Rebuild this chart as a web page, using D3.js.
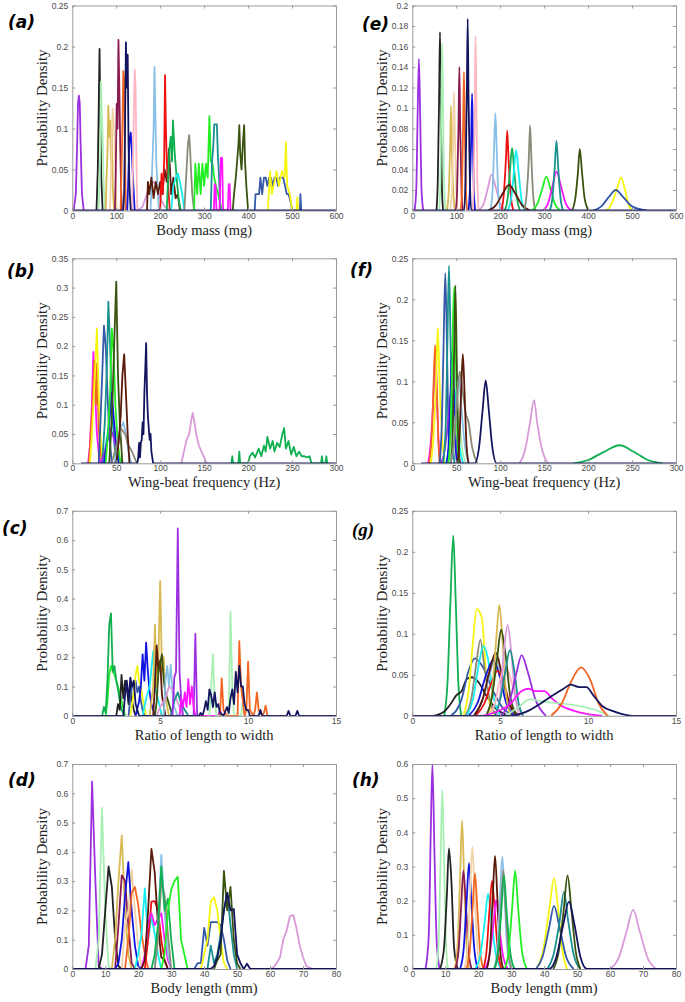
<!DOCTYPE html>
<html><head><meta charset="utf-8">
<script src="https://cdn.jsdelivr.net/npm/d3@7"></script>
<style>body{margin:0;background:#fff}</style>
</head><body><svg id="c" width="685" height="1002"></svg>
<script>
// ---------- styles (species colours) ----------
const palette = {
  purple:"#9b30e0", black:"#222222", lightgreen:"#a8efb4", khaki:"#d8b850", wheat:"#f3d3a6",
  maroon:"#8b1a50", orange:"#f26522", pink:"#ffb6c1", navy:"#13145e", blue:"#1414e0",
  skyblue:"#88c0e8", plum:"#d99ad9", red:"#ee1111", brown:"#5a1a0a", medgreen:"#10b050",
  cyan:"#14eeee", gray:"#8a8a78", lime:"#22ee22", magenta:"#ff14ff", teal:"#1a9090",
  olive:"#3a5210", royal:"#3558a8", yellow:"#f5f510"
};

// ---------- tick values ----------
const massTicks = [0,100,200,300,400,500,600];
const wingTicks = [0,50,100,150,200,250,300];
const ratioTicks = [0,5,10,15];
const lengthTicks = [0,10,20,30,40,50,60,70,80];
const yTicksA = [0,0.05,0.1,0.15,0.2,0.25];
const yTicksE = [0,0.02,0.04,0.06,0.08,0.1,0.12,0.14,0.16,0.18,0.2];
const yTicksB = [0,0.05,0.1,0.15,0.2,0.25,0.3,0.35];
const yTicksF = [0,0.05,0.1,0.15,0.2,0.25];
const yTicksC = [0,0.1,0.2,0.3,0.4,0.5,0.6,0.7];
const yTicksG = [0,0.05,0.1,0.15,0.2,0.25];
const yTicksD = [0,0.1,0.2,0.3,0.4,0.5,0.6,0.7];
const yTicksH = [0,0.1,0.2,0.3,0.4,0.5,0.6];

// ---------- (a) body mass, raw densities ----------
const massRaw = [
 ["purple",[[3,0],[8,.02],[11,.08],[13,.13],[15,.14],[17,.13],[19,.08],[22,.02],[26,0]]],
 ["black",[[55,0],[58,.05],[60,.12],[62,.197],[64,.10],[66,.04],[69,0]]],
 ["lightgreen",[[60,0],[63,.06],[65,.157],[67,.12],[69,.09],[71,.04],[74,0]]],
 ["khaki",[[76,0],[78,.04],[80,.07],[82,.128],[84,.09],[86,.11],[88,.06],[90,.10],[92,.03],[95,0]]],
 ["wheat",[[86,0],[88,.05],[90,.10],[92,.124],[94,.11],[96,.09],[98,.05],[101,0]]],
 ["maroon",[[97,0],[99,.05],[101,.13],[103,.10],[105,.208],[107,.15],[109,.08],[111,.03],[113,0]]],
 ["orange",[[110,0],[112,.05],[114,.10],[116,.17],[118,.16],[120,.06],[122,0]]],
 ["blue",[[125,0],[127,.03],[129,.07],[131,.09],[133,.095],[135,.08],[137,.05],[140,.02],[142,0]]],
 ["pink",[[136,0],[138,.06],[140,.12],[142,.172],[144,.15],[146,.06],[148,0]]],
 ["plum",[[150,0],[160,.005],[170,.02],[178,.03],[185,.035],[192,.03],[200,.015],[210,.005],[220,0]]],
 ["skyblue",[[178,0],[181,.04],[183,.07],[185,.10],[187,.175],[189,.12],[191,.06],[194,.03],[197,0]]],
 ["brown",[[170,0],[172,.035],[175,.02],[180,.04],[185,.015],[190,.035],[195,.02],[200,.035],[205,.02],[210,.05],[215,.035],[220,.075],[225,.02],[230,.04],[235,.015],[240,.02],[245,0]]],
 ["red",[[200,0],[203,.045],[206,.02],[209,.06],[211,.165],[213,.10],[215,.06],[218,.03],[222,0]]],
 ["medgreen",[[215,0],[218,.04],[221,.075],[224,.09],[227,.06],[229,.11],[231,.09],[233,.07],[236,.05],[239,.03],[243,.01],[247,0]]],
 ["cyan",[[225,0],[230,.03],[235,.04],[240,.045],[245,.035],[250,.02],[255,0]]],
 ["gray",[[255,0],[258,.03],[261,.06],[263,.08],[266,.092],[268,.075],[270,.05],[273,.02],[277,0]]],
 ["lime",[[277,0],[280,.057],[284,.02],[288,.057],[292,.02],[296,.057],[300,.03],[304,.057],[308,.04],[312,.115],[315,.06],[319,.057],[323,.04],[327,.03],[332,.02],[336,.01],[340,0]]],
 ["teal",[[315,0],[318,.06],[321,.08],[323,.105],[326,.105],[329,.105],[331,.07],[334,.04],[337,0]]],
 ["magenta",[[322,0],[324,.032],[326,.03],[328,0],[335,0],[338,.064],[341,.064],[343,0],[354,0],[356,.032],[358,.032],[360,0]]],
 ["olive",[[365,0],[368,.02],[372,.04],[375,.06],[378,.08],[380,.104],[382,.07],[385,.05],[388,.08],[391,.104],[393,.06],[396,.03],[400,0]]],
 ["royal",[[415,0],[417,.02],[425,.02],[428,.04],[432,.02],[436,.04],[440,.04],[444,.03],[448,.04],[452,.04],[456,.03],[460,.04],[464,.04],[468,.03],[472,.04],[476,.04],[480,.04],[484,.03],[488,.02],[492,.02],[497,.01],[500,0],[518,0],[519,.02],[521,0]]],
 ["yellow",[[445,0],[450,.048],[454,.02],[465,.048],[470,.03],[477,.048],[483,.04],[486,.083],[489,.03],[495,.02],[500,0],[510,0],[512,.016],[514,0]]],
 ["navy",[[0,0],[116,0],[118,.02],[120,.10],[122,.205],[124,.15],[126,.19],[128,.08],[130,.03],[133,0],[600,0]]]
];

// ---------- (e) body mass, fitted ----------
const massFit = [
 ["purple",[[5,0],[9,.02],[12,.09],[15,.148],[18,.09],[21,.02],[25,0]]],
 ["black",[[55,0],[58,.03],[61,.11],[63,.174],[65,.11],[67,.03],[70,0]]],
 ["lightgreen",[[61,0],[64,.03],[66,.10],[68,.163],[70,.10],[72,.03],[76,0]]],
 ["khaki",[[79,0],[83,.02],[86,.06],[88,.102],[90,.06],[93,.02],[97,0]]],
 ["wheat",[[86,0],[90,.02],[93,.07],[95,.116],[97,.07],[100,.02],[103,0]]],
 ["maroon",[[99,0],[102,.02],[105,.08],[107,.14],[109,.08],[112,.02],[115,0]]],
 ["orange",[[110,0],[113,.02],[115.5,.08],[117.5,.135],[119.5,.08],[122,.02],[125,0]]],
 ["blue",[[128,0],[131,.02],[134,.07],[136,.114],[138,.07],[140,.02],[143,0]]],
 ["pink",[[137,0],[140,.03],[142,.10],[144,.17],[146,.10],[148,.03],[151,0]]],
 ["plum",[[150,0],[162,.006],[172,.022],[180,.035],[189,.024],[200,.007],[215,0]]],
 ["skyblue",[[177,0],[182,.015],[186,.06],[189,.095],[192,.06],[196,.015],[201,0]]],
 ["red",[[203,0],[208,.015],[213,.05],[216,.078],[219,.05],[224,.015],[230,0]]],
 ["medgreen",[[211,0],[217,.012],[222,.038],[227,.061],[232,.038],[238,.012],[245,0]]],
 ["cyan",[[218,0],[225,.012],[231,.037],[236,.059],[242,.037],[248,.012],[256,0]]],
 ["brown",[[173,0],[190,.005],[205,.016],[220,.025],[235,.016],[250,.005],[268,0]]],
 ["gray",[[255,0],[260,.015],[265,.05],[268,.083],[271,.05],[275,.015],[280,0]]],
 ["lime",[[272,0],[284,.006],[295,.02],[305,.033],[315,.02],[325,.006],[337,0]]],
 ["magenta",[[298,0],[309,.007],[319,.024],[328,.038],[338,.024],[349,.007],[362,0]]],
 ["teal",[[313,0],[319,.013],[324,.042],[328,.068],[332,.042],[337,.013],[343,0]]],
 ["olive",[[364,0],[371,.012],[377,.038],[381,.06],[386,.038],[392,.012],[401,0]]],
 ["yellow",[[442,0],[453,.006],[465,.02],[475,.032],[484,.02],[492,.006],[500,0]]],
 ["royal",[[412,0],[430,.004],[447,.013],[463,.02],[480,.013],[500,.004],[533,0]]],
 ["navy",[[0,0],[118,0],[121,.03],[124,.11],[126,.187],[128,.11],[131,.03],[134,0],[600,0]]]
];

// ---------- (b) wing-beat frequency, raw ----------
const wingRaw = [
 ["magenta",[[18,0],[20,.03],[22,.09],[24,.19],[26,.12],[28,.05],[30,.02],[32,0]]],
 ["orange",[[19,0],[21,.05],[23,.10],[25,.175],[27,.10],[28,.17],[30,.06],[32,.02],[34,0]]],
 ["yellow",[[20,0],[22,.04],[24,.10],[26,.16],[28,.23],[30,.12],[32,.05],[35,0]]],
 ["royal",[[30,0],[32,.07],[34,.15],[36,.235],[38,.20],[40,.12],[42,.05],[45,0]]],
 ["cyan",[[35,0],[38,.03],[40,.05],[44,.09],[48,.05],[52,0]]],
 ["teal",[[34,0],[37,.07],[39,.15],[41,.276],[43,.20],[45,.10],[48,.03],[50,0]]],
 ["purple",[[33,0],[37,.02],[40,.04],[43,.06],[46,.05],[49,.03],[53,.01],[57,0]]],
 ["blue",[[36,0],[40,.04],[43,.09],[45,.12],[47,.08],[50,.03],[53,0]]],
 ["lime",[[38,0],[41,.06],[43,.12],[45,.23],[47,.19],[49,.10],[52,.03],[55,0]]],
 ["olive",[[42,0],[44,.05],[46,.12],[48,.22],[50,.31],[52,.15],[54,.07],[57,0]]],
 ["skyblue",[[48,0],[52,.03],[55,.06],[58,.07],[61,.05],[64,.02],[67,0]]],
 ["gray",[[45,0],[50,.03],[55,.06],[60,.05],[64,.03],[68,.02],[72,.005],[74,0]]],
 ["brown",[[50,0],[53,.04],[55,.08],[57,.15],[59,.186],[61,.12],[63,.05],[65,0]]],
 ["plum",[[124,0],[127,.02],[130,.04],[133,.05],[135,.07],[137,.086],[139,.07],[141,.05],[144,.03],[147,.02],[150,.01],[153,0]]],
 ["medgreen",[[181,0],[182,.012],[183,0],[189,0],[190,.02],[191,0],[200,0],[202,.012],[205,.018],[208,.01],[212,.025],[215,.012],[218,.03],[220,.02],[222,.045],[225,.025],[228,.038],[230,.02],[233,.035],[236,.028],[239,.05],[241,.06],[243,.025],[246,.038],[249,.015],[252,.028],[255,.012],[258,.02],[261,.012],[264,.012],[267,.01],[270,.012],[272,0],[283,0],[284,.012],[285,0],[288,0],[289,.012],[290,0]]],
 ["navy",[[10,0],[74,0],[75,.01],[76,.035],[77,.01],[78,.035],[79,.04],[80,.07],[81,.05],[82,.12],[83,.16],[84,.205],[85,.12],[86,.08],[87,.06],[88,.04],[89,.05],[90,.02],[92,0],[300,0]]]
];

// ---------- (f) wing-beat frequency, fitted ----------
const wingFit = [
 ["magenta",[[18,0],[21,.025],[24,.08],[26,.13],[28,.08],[30,.025],[32,0]]],
 ["orange",[[19,0],[22,.03],[24,.09],[26,.144],[28,.09],[29.5,.03],[31,0]]],
 ["yellow",[[21,0],[24,.03],[27,.10],[29,.165],[31,.10],[34,.03],[37,0]]],
 ["royal",[[31,0],[33.5,.045],[35.5,.14],[37.5,.232],[39.5,.14],[41,.045],[43,0]]],
 ["purple",[[33,0],[37,.017],[41,.055],[44,.087],[47,.055],[51,.017],[55,0]]],
 ["cyan",[[38,0],[42,.02],[45,.06],[48,.09],[51,.06],[54,.02],[58,0]]],
 ["teal",[[35,0],[38,.045],[40,.15],[41.7,.241],[43.5,.15],[45.5,.045],[48,0]]],
 ["blue",[[39,0],[41.5,.027],[43.5,.085],[45.5,.138],[47.5,.085],[49,.027],[51,0]]],
 ["lightgreen",[[42,0],[45,.015],[48,.045],[51,.07],[54,.045],[57,.015],[61,0]]],
 ["lime",[[41,0],[43.5,.04],[45.5,.13],[47.5,.215],[49.5,.13],[51,.04],[53,0]]],
 ["olive",[[44,0],[46,.04],[47.5,.13],[49,.217],[50.5,.13],[52,.04],[54,0]]],
 ["skyblue",[[43,0],[47,.02],[50,.065],[53,.105],[56,.065],[60,.02],[64,0]]],
 ["gray",[[43,0],[47,.02],[51,.08],[54,.112],[57,.09],[61,.06],[64,.05],[68,.02],[74,0]]],
 ["brown",[[51,0],[53.5,.026],[55.5,.085],[57.5,.133],[59.5,.085],[61.5,.026],[64,0]]],
 ["plum",[[122,0],[128,.015],[134,.05],[138.5,.077],[142,.05],[148,.015],[154,0]]],
 ["medgreen",[[183,0],[200,.004],[218,.014],[236,.022],[252,.014],[268,.004],[285,0]]],
 ["navy",[[10,0],[71,0],[76,.02],[80,.065],[83.5,.101],[87,.065],[91,.02],[96,0],[300,0]]]
];

// ---------- (c) ratio of length to width, raw ----------
const ratioRaw = [
 ["lime",[[1.9,0],[2.0,.05],[2.1,.14],[2.2,.17],[2.4,.14],[2.6,.10],[2.8,.05],[3.0,0]]],
 ["medgreen",[[1.7,0],[1.8,.03],[1.9,.01],[2.0,.12],[2.1,.31],[2.2,.35],[2.3,.15],[2.4,.17],[2.5,.12],[2.6,.09],[2.7,.05],[2.8,.02],[3.0,0]]],
 ["black",[[2.5,0],[2.6,.04],[2.7,.02],[2.8,.14],[2.9,.06],[3.0,.12],[3.1,.10],[3.2,.04],[3.3,.11],[3.4,.05],[3.5,.02],[3.6,0]]],
 ["royal",[[3.2,0],[3.3,.06],[3.4,.10],[3.5,.10],[3.6,.12],[3.7,.08],[3.8,.10],[3.9,.05],[4.0,.02],[4.1,0]]],
 ["yellow",[[3.3,0],[3.5,.08],[3.6,.14],[3.7,.17],[3.8,.12],[3.9,.10],[4.0,.06],[4.2,0]]],
 ["blue",[[3.6,0],[3.8,.05],[3.9,.10],[4.0,.21],[4.1,.12],[4.2,.25],[4.3,.15],[4.4,.08],[4.5,.04],[4.7,0]]],
 ["cyan",[[4.0,0],[4.2,.06],[4.4,.10],[4.6,.22],[4.7,.10],[4.9,.05],[5.1,0]]],
 ["khaki",[[4.4,0],[4.6,.10],[4.7,.31],[4.8,.10],[4.9,.20],[5.0,.46],[5.1,.15],[5.2,.20],[5.3,.06],[5.5,0]]],
 ["brown",[[4.6,0],[4.7,.10],[4.8,.24],[4.9,.15],[5.0,.19],[5.1,.07],[5.3,0]]],
 ["olive",[[4.7,0],[4.8,.05],[4.9,.15],[5.0,.18],[5.1,.21],[5.2,.12],[5.3,.08],[5.5,.04],[5.7,0]]],
 ["skyblue",[[5.2,0],[5.3,.12],[5.4,.17],[5.5,.10],[5.6,.175],[5.7,.08],[5.8,.03],[6.0,0]]],
 ["plum",[[4.8,0],[5.0,.03],[5.3,.06],[5.5,.10],[5.7,.09],[5.9,.06],[6.1,.03],[6.3,0]]],
 ["teal",[[5.6,0],[5.8,.05],[6.0,.08],[6.2,.04],[6.4,.02],[6.6,0]]],
 ["purple",[[5.7,0],[5.8,.13],[5.9,.15],[6.0,.64],[6.1,.15],[6.2,.05],[6.3,0],[6.9,0],[7.0,.28],[7.1,0]]],
 ["magenta",[[6.1,0],[6.2,.06],[6.3,.03],[6.4,.08],[6.5,.03],[6.6,.125],[6.7,.04],[6.8,.10],[6.9,.03],[7.0,0],[8.3,0],[8.4,.02],[8.5,0]]],
 ["lightgreen",[[7.8,0],[7.9,.10],[8.0,.21],[8.1,.05],[8.2,0],[8.9,0],[9.0,.355],[9.1,.10],[9.2,0],[9.6,0],[9.7,.05],[9.8,0]]],
 ["orange",[[8.4,0],[8.5,.128],[8.6,.02],[8.8,0],[9.4,0],[9.5,.255],[9.6,.10],[9.7,.05],[9.8,0],[9.9,.02],[10.0,.185],[10.1,.02],[10.3,0],[10.4,.02],[10.5,.08],[10.6,.02],[10.8,0],[10.9,.01],[11.0,.035],[11.1,0]]],
 ["navy",[[0,0],[2.9,0],[3.0,.07],[3.1,.12],[3.2,.05],[3.3,.13],[3.4,.10],[3.5,.12],[3.6,.04],[3.7,.02],[3.8,0],[7.2,0],[7.3,.01],[7.4,0],[7.5,.02],[7.6,.05],[7.7,.02],[7.8,.09],[7.9,.07],[8.0,.03],[8.1,.08],[8.2,.03],[8.3,.04],[8.4,.01],[8.6,0],[8.8,.03],[8.9,.01],[9.0,.06],[9.1,.09],[9.2,.04],[9.3,.15],[9.4,.08],[9.5,.17],[9.6,.10],[9.7,.10],[9.8,.04],[9.9,.02],[10.0,.02],[10.1,0],[10.6,0],[10.7,.02],[10.8,0],[12.2,0],[12.3,.017],[12.4,0],[12.7,0],[12.8,.017],[12.9,0],[15,0]]]
];

// ---------- (g) ratio of length to width, fitted ----------
const ratioFit = [
 ["medgreen",[[1.82,0],[2.0,.04],[2.17,.14],[2.33,.22],[2.47,.14],[2.62,.04],[2.78,0]]],
 ["black",[[1.2,0],[1.8,.005],[2.2,.015],[2.5,.025],[2.8,.03],[3.1,.045],[3.4,.047],[3.8,.04],[4.2,.025],[4.7,.01],[5.5,0]]],
 ["royal",[[2.2,0],[2.8,.02],[3.2,.055],[3.56,.07],[4.0,.06],[4.6,.03],[5.2,.008],[5.9,0]]],
 ["yellow",[[2.9,0],[3.2,.03],[3.45,.09],[3.66,.13],[3.95,.12],[4.2,.05],[4.45,.01],[4.7,0]]],
 ["gray",[[3.0,0],[3.35,.02],[3.65,.065],[3.87,.093],[4.1,.06],[4.4,.02],[4.8,0]]],
 ["cyan",[[3.1,0],[3.45,.02],[3.8,.065],[4.04,.085],[4.3,.07],[4.6,.025],[5.0,0]]],
 ["skyblue",[[3.6,0],[4.0,.02],[4.4,.05],[4.7,.07],[5.0,.05],[5.4,.02],[5.8,0]]],
 ["blue",[[3.2,0],[3.7,.015],[4.2,.05],[4.6,.068],[4.95,.05],[5.35,.015],[5.8,0]]],
 ["red",[[3.6,0],[4.1,.015],[4.5,.04],[4.85,.055],[5.2,.04],[5.6,.012],[6.1,0]]],
 ["brown",[[3.5,0],[4.0,.02],[4.4,.055],[4.75,.077],[5.1,.05],[5.5,.015],[6.0,0]]],
 ["khaki",[[4.3,0],[4.55,.03],[4.78,.095],[4.95,.135],[5.12,.095],[5.32,.03],[5.6,0]]],
 ["pink",[[4.3,0],[4.7,.015],[5.0,.045],[5.3,.06],[5.6,.045],[5.95,.015],[6.3,0]]],
 ["olive",[[4.2,0],[4.55,.025],[4.85,.075],[5.05,.105],[5.3,.075],[5.6,.02],[6.0,0]]],
 ["plum",[[4.8,0],[5.0,.025],[5.22,.08],[5.42,.111],[5.62,.08],[5.85,.025],[6.1,0]]],
 ["teal",[[4.7,0],[5.0,.02],[5.3,.055],[5.55,.08],[5.8,.055],[6.05,.015],[6.3,0]]],
 ["purple",[[5.0,0],[5.5,.015],[5.9,.05],[6.22,.074],[6.55,.055],[7.0,.02],[7.6,0]]],
 ["magenta",[[4.0,0],[4.8,.005],[5.6,.015],[6.2,.03],[6.6,.033],[7.0,.03],[7.5,.03],[8.0,.02],[8.5,.012],[9.2,.006],[10,.002],[10.8,0]]],
 ["lightgreen",[[5.3,0],[6.0,.01],[6.7,.02],[7.5,.017],[8.5,.015],[9.5,.012],[10.3,.008],[11.2,0]]],
 ["orange",[[7.9,0],[8.5,.015],[9.0,.04],[9.6,.059],[10.1,.045],[10.6,.015],[11.1,0]]],
 ["navy",[[0,0],[5.5,0],[6.5,.005],[7.3,.015],[8.0,.025],[8.6,.033],[9.0,.038],[9.5,.035],[9.9,.035],[10.3,.025],[10.8,.012],[11.5,.005],[12.5,0],[15,0]]]
];

// ---------- (d) body length, raw ----------
const lengthRaw = [
 ["purple",[[4,0],[5,.08],[6,.64],[7,.30],[8,.01],[9,0]]],
 ["lightgreen",[[7,0],[8,.10],[9,.55],[10,.20],[11,.01],[12,0]]],
 ["black",[[8,0],[9,.05],[10,.20],[11,.35],[12,.28],[13,.10],[14,.01],[15,0]]],
 ["khaki",[[12,0],[13,.10],[14,.30],[15,.455],[16,.20],[17,.05],[18,0]]],
 ["maroon",[[13,0],[14,.15],[15,.32],[16,.30],[17,.15],[18,.02],[19,0]]],
 ["wheat",[[15,0],[16,.15],[17,.20],[18,.34],[19,.20],[20,.08],[21,0]]],
 ["blue",[[13,0],[14,.02],[15,.10],[16,.25],[17,.365],[18,.20],[19,.08],[20,.01],[21,0]]],
 ["orange",[[16,0],[17,.10],[18,.26],[19,.28],[20,.22],[21,.12],[22,.05],[23,0]]],
 ["cyan",[[19,0],[20,.05],[21,.12],[22,.275],[23,.10],[24,.18],[25,.12],[26,.05],[27,0]]],
 ["red",[[22,0],[23,.10],[24,.23],[25,.232],[26,.20],[27,.10],[28,.03],[29,0]]],
 ["magenta",[[21,0],[22,.05],[23,.16],[24,.19],[25,.15],[26,.17],[27,.19],[28,.10],[29,.03],[30,0]]],
 ["brown",[[21,0],[22,.03],[23,.20],[24,.41],[25,.33],[26,.15],[27,.04],[28,.03],[29,0]]],
 ["skyblue",[[25,0],[26,.15],[27,.39],[28,.20],[29,.05],[30,0]]],
 ["gray",[[25,0],[26,.10],[27,.30],[28,.25],[29,.12],[30,0]]],
 ["medgreen",[[24,0],[25,.05],[26,.15],[27,.35],[28,.20],[29,.24],[30,.10],[31,0]]],
 ["lime",[[27,0],[28,.05],[29,.20],[30,.27],[31,.30],[32,.315],[33,.10],[34,.05],[35,0]]],
 ["royal",[[37,0],[38,.02],[39,.02],[40,.14],[41,.08],[42,.16],[43,.16],[44,.16],[45,.15],[46,.10],[47,.03],[48,0]]],
 ["yellow",[[39,0],[40,.05],[41,.10],[42,.23],[43,.245],[44,.20],[45,.10],[46,.02],[47,0]]],
 ["teal",[[41,0],[42,.08],[43,.02],[44,.05],[45,.12],[46,.20],[47,.26],[48,.15],[49,.05],[50,0]]],
 ["olive",[[43,0],[44,.03],[45,.05],[46,.335],[47,.20],[48,.28],[49,.10],[50,.02],[51,0]]],
 ["plum",[[60,0],[61,.005],[62,.02],[63,.04],[64,.10],[65,.13],[66,.18],[67,.185],[68,.14],[69,.08],[70,.04],[71,.01],[72,.005],[73,0]]],
 ["navy",[[0,0],[42,0],[43,.01],[44,.04],[45,.10],[46,.20],[47,.26],[48,.20],[49,.205],[50,.05],[51,.02],[52,0],[53,.018],[54,0],[80,0]]]
];

// ---------- (h) body length, fitted ----------
const lengthFit = [
 ["purple",[[4,0],[5,.10],[5.6,.40],[6.1,.60],[6.7,.35],[7.4,.08],[8.3,0]]],
 ["lightgreen",[[7.3,0],[8.0,.08],[8.6,.33],[9.1,.524],[9.6,.33],[10.2,.08],[10.8,0]]],
 ["black",[[8.4,0],[9.6,.06],[10.5,.22],[11.1,.353],[11.8,.27],[12.7,.06],[13.8,0]]],
 ["khaki",[[12.9,0],[13.8,.08],[14.5,.27],[15.1,.435],[15.7,.27],[16.4,.08],[17.2,0]]],
 ["maroon",[[13,0],[14,.05],[14.8,.18],[15.5,.288],[16.3,.18],[17.1,.05],[18,0]]],
 ["blue",[[14.5,0],[15.6,.06],[16.5,.20],[17.2,.31],[17.9,.20],[18.8,.06],[19.8,0]]],
 ["wheat",[[15.8,0],[16.8,.07],[17.5,.22],[18.2,.358],[18.9,.22],[19.7,.07],[20.6,0]]],
 ["orange",[[16.4,0],[17.4,.05],[18.3,.18],[19,.28],[19.7,.18],[20.6,.05],[21.6,0]]],
 ["cyan",[[19,0],[20.6,.04],[22,.14],[23,.22],[24,.14],[25.4,.04],[27,0]]],
 ["red",[[21.5,0],[22.5,.05],[23.4,.17],[24.2,.258],[25,.17],[26,.05],[27,0]]],
 ["magenta",[[22,0],[23.4,.04],[24.6,.13],[25.4,.202],[26.3,.13],[27.5,.04],[29,0]]],
 ["brown",[[22.6,0],[23.6,.06],[24.4,.21],[25.1,.331],[25.8,.21],[26.6,.06],[27.6,0]]],
 ["skyblue",[[24.8,0],[25.8,.06],[26.6,.21],[27.3,.329],[28,.21],[28.8,.06],[29.8,0]]],
 ["gray",[[25,0],[26,.05],[26.9,.18],[27.6,.29],[28.3,.18],[29.2,.05],[30.2,0]]],
 ["medgreen",[[24.8,0],[26,.05],[27,.17],[27.8,.275],[28.6,.17],[29.7,.05],[31,0]]],
 ["lime",[[28,0],[29.2,.05],[30.3,.18],[31.2,.288],[32.1,.18],[33.3,.05],[34.8,0]]],
 ["yellow",[[37.7,0],[39.6,.05],[41.5,.17],[43,.265],[44.3,.17],[45.6,.05],[47,0]]],
 ["royal",[[37.5,0],[39.5,.035],[41.5,.12],[43,.185],[44.7,.12],[46.7,.035],[49,0]]],
 ["teal",[[41,0],[42.8,.04],[44.7,.14],[46,.225],[47.3,.14],[49,.04],[51,0]]],
 ["olive",[[42.8,0],[44.4,.05],[45.9,.17],[47.1,.274],[48.3,.17],[49.6,.05],[51,0]]],
 ["plum",[[60,0],[62.5,.03],[65,.11],[67,.173],[69,.11],[71.5,.03],[74,0]]],
 ["navy",[[0,0],[41.5,0],[43.7,.035],[45.8,.13],[47.5,.197],[49.2,.13],[51,.035],[53,0],[80,0]]]
];

// ---------- layout ----------
const PW = 263.7, PH = 205;
const panels = [
 {lab:"(a)", lx:8,  ly:28,  data:massRaw,   xd:[0,600], xt:massTicks,   yd:[0,0.25], yt:yTicksA, title:"Body mass (mg)", left:72.3,  top:5.5,   smooth:false},
 {lab:"(e)", lx:362,ly:30,  data:massFit,   xd:[0,600], xt:massTicks,   yd:[0,0.2],  yt:yTicksE, title:"Body mass (mg)", left:412.3, top:5.5,   smooth:true},
 {lab:"(b)", lx:7,  ly:277, data:wingRaw,   xd:[0,300], xt:wingTicks,   yd:[0,0.35], yt:yTicksB, title:"Wing-beat frequency (Hz)", left:72.3,  top:258.3, smooth:false},
 {lab:"(f)", lx:350,ly:276, data:wingFit,   xd:[0,300], xt:wingTicks,   yd:[0,0.25], yt:yTicksF, title:"Wing-beat frequency (Hz)", left:412.3, top:258.3, smooth:true},
 {lab:"(c)", lx:2,  ly:534, data:ratioRaw,  xd:[0,15],  xt:ratioTicks,  yd:[0,0.7],  yt:yTicksC, title:"Ratio of length to width", left:72.3,  top:510.8, smooth:false},
 {lab:"(g)", lx:352,ly:536, data:ratioFit,  xd:[0,15],  xt:ratioTicks,  yd:[0,0.25], yt:yTicksG, title:"Ratio of length to width", left:412.3, top:510.8, smooth:true, serif:true},
 {lab:"(d)", lx:8,  ly:786, data:lengthRaw, xd:[0,80],  xt:lengthTicks, yd:[0,0.7],  yt:yTicksD, title:"Body length (mm)", left:72.3,  top:764,   smooth:false},
 {lab:"(h)", lx:352,ly:786, data:lengthFit, xd:[0,80],  xt:lengthTicks, yd:[0,0.6],  yt:yTicksH, title:"Body length (mm)", left:412.3, top:764,   smooth:true}
];

const svg = d3.select("#c");
svg.append("rect").attr("width",685).attr("height",1002).attr("fill","#fff");
const fmt = d3.format("~g");
const AX = "#9a9a9a";

panels.forEach((p,i)=>{
  const x = d3.scaleLinear().domain(p.xd).range([0,PW]);
  const y = d3.scaleLinear().domain(p.yd).range([PH,0]);
  const g = svg.append("g").attr("transform",`translate(${p.left},${p.top})`);

  g.append("clipPath").attr("id","clip"+i).append("rect").attr("width",PW).attr("height",PH+1).attr("y",-0.5);

  const line = d3.line().x(d=>x(d[0])).y(d=>y(d[1]))
     .curve(p.smooth ? d3.curveMonotoneX : d3.curveLinear);
  const lines = g.append("g").attr("clip-path",`url(#clip${i})`);
  p.data.forEach(([key,pts])=>{
    lines.append("path").attr("d",line(pts)).attr("fill","none")
      .attr("stroke",palette[key]).attr("stroke-width",1.8)
      .attr("stroke-linejoin","round");
  });

  // axes (MATLAB-style box with inward ticks)
  const styleAxis = sel => {
    sel.selectAll(".domain").attr("stroke",AX).attr("stroke-width",1);
    sel.selectAll(".tick line").attr("stroke",AX);
    sel.selectAll("text").attr("fill","#4a4a4a").style("font-family","'Liberation Sans', Arial, sans-serif").style("font-size","8.5px");
  };
  g.append("g").attr("transform",`translate(0,${PH})`)
    .call(d3.axisBottom(x).tickValues(p.xt).tickFormat(fmt).tickSizeInner(-3).tickSizeOuter(0).tickPadding(2))
    .call(styleAxis);
  g.append("g")
    .call(d3.axisTop(x).tickValues(p.xt).tickFormat("").tickSizeInner(-3).tickSizeOuter(0))
    .call(styleAxis);
  g.append("g")
    .call(d3.axisLeft(y).tickValues(p.yt).tickFormat(fmt).tickSizeInner(-3).tickSizeOuter(0).tickPadding(4))
    .call(styleAxis);
  g.append("g").attr("transform",`translate(${PW},0)`)
    .call(d3.axisRight(y).tickValues(p.yt).tickFormat("").tickSizeInner(-3).tickSizeOuter(0))
    .call(styleAxis);

  // titles
  g.append("text").attr("x",PW/2).attr("y",PH+24).attr("text-anchor","middle")
    .style("font-family","'Liberation Serif','Times New Roman',serif").style("font-size","14.5px")
    .attr("fill","#222").text(p.title);
  g.append("text").attr("transform",`translate(-25,${PH/2}) rotate(-90)`).attr("text-anchor","middle")
    .style("font-family","'Liberation Serif','Times New Roman',serif").style("font-size","15px")
    .attr("fill","#222").text("Probability Density");

  svg.append("text").attr("x",p.lx).attr("y",p.ly)
    .style("font-family", p.serif ? "'Liberation Serif',serif" : "'DejaVu Sans',sans-serif")
    .style("font-weight","bold").style("font-style","italic")
    .style("font-size", p.serif ? "19px" : "17px")
    .attr("fill","#000").text(p.lab);
});
</script>
</body></html>
